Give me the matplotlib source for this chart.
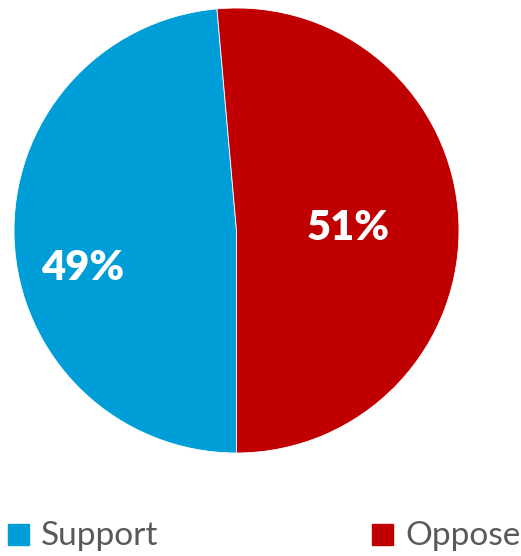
import matplotlib
matplotlib.use('Agg')
import matplotlib.pyplot as plt
from matplotlib.patches import Rectangle

# data (slice geometry reads ~48.6 / 51.4, labels are rounded)
labels = ['Support', 'Oppose']
values = [48.6, 51.4]
colors = ['#009ED8', '#C00000']

W, H = 521, 556
fig = plt.figure(figsize=(W / 100, H / 100), dpi=100)

# pie axes: centre (236.5, 230.5) px from top-left, radius 222.5 px
cx, cy, r = 236.5, 230.5, 222.5
ax = fig.add_axes([(cx - r) / W, (H - cy - r) / H, 2 * r / W, 2 * r / H])
start = 270 - 360 * values[0] / sum(values)
wedges, _ = ax.pie(values, colors=colors, startangle=start, counterclock=True,
                   radius=1.0, wedgeprops=dict(edgecolor='white', linewidth=0.6))
ax.set_xlim(-1, 1)
ax.set_ylim(-1, 1)
ax.set_aspect('equal')
ax.axis('off')

# percentage labels
label_pos = [(-0.69, -0.17), (0.50, 0.013)]
for v, (x, y) in zip(values, label_pos):
    ax.text(x, y, '%.0f%%' % v, ha='center', va='center', color='white',
            fontsize=30, fontweight='heavy', family='Lato')

# legend at bottom
legend_x = [8, 372]
for lab, col, lx in zip(labels, colors, legend_x):
    fig.patches.append(Rectangle((lx / W, (H - 545) / H), 21 / W, 21 / H,
                                 transform=fig.transFigure, color=col))
    fig.text((lx + 33) / W, (H - 536) / H, lab, ha='left', va='center',
             fontsize=24, color='#595959', family='Lato')

plt.savefig('out.png', dpi=100)
